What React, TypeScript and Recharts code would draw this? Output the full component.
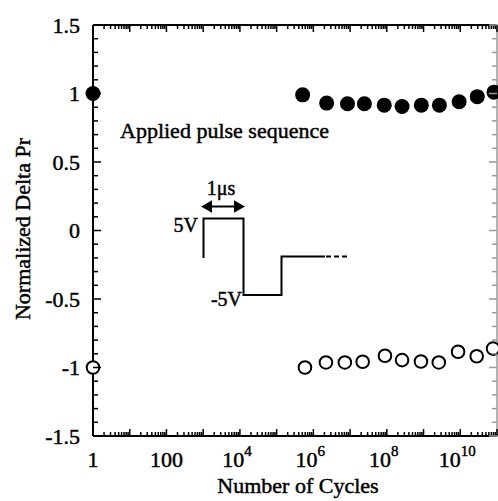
import React from 'react';
import { ScatterChart, Scatter, XAxis, YAxis } from 'recharts';

// Filled circles (positive state)
const cyclesFilled = [1, 5.1e5, 2.3e6, 8.5e6, 2.45e7, 8.5e7, 2.6e8, 8.7e8, 2.7e9, 9.3e9, 2.9e10, 8.3e10];
const prFilled = [1.0, 0.99, 0.93, 0.925, 0.925, 0.915, 0.905, 0.915, 0.915, 0.94, 0.977, 1.01];

// Open circles (negative state)
const cyclesOpen = [1, 5.9e5, 2.2e6, 7.2e6, 2.2e7, 8.9e7, 2.6e8, 8.5e8, 2.6e9, 8.7e9, 2.8e10, 7.8e10];
const prOpen = [-1.0, -1.0, -0.963, -0.963, -0.958, -0.914, -0.946, -0.956, -0.963, -0.885, -0.918, -0.862];

const xDecades = [0, 1, 2, 3, 4, 5, 6, 7, 8, 9, 10, 11];
const xLabelDecades = [0, 2, 4, 6, 8, 10];
const yTickValues = [-1.5, -1, -0.5, 0, 0.5, 1, 1.5];
const yTickLabels = ['-1.5', '-1', '-0.5', '0', '0.5', '1', '1.5'];

const filledData = cyclesFilled.map((x, i) => ({ x, y: prFilled[i] }));
const openData = cyclesOpen.map((x, i) => ({ x, y: prOpen[i] }));

const xTicks: number[] = [];
xDecades.forEach((d) => {
  for (let m = 1; m <= 9; m++) {
    const v = m * Math.pow(10, d);
    if (v <= 1e11 + 1) xTicks.push(v);
  }
});
const yTicks: number[] = [];
for (let i = -15; i <= 15; i++) yTicks.push(i / 10);

// chart layout (plot box follows from margins and axis sizes below)
const W = 498;
const H = 501;
const MARGIN = { top: 24, right: 0, bottom: 0, left: 0 };
const LEFT_W = 93;
const RIGHT_W = 1;
const BOTTOM_H = 65;
const TOP_H = 1;
const PL = MARGIN.left + LEFT_W;
const PR = W - MARGIN.right - RIGHT_W;
const PT = MARGIN.top + TOP_H;
const PB = H - MARGIN.bottom - BOTTOM_H;
const sx = (v: number) => PL + ((PR - PL) * Math.log10(v)) / 11;
const sy = (v: number) => PT + ((PB - PT) * (1.5 - v)) / 3;

const FONT = 'Liberation Serif';
const TXT = { fontFamily: FONT, fill: '#000', stroke: '#000', strokeWidth: 0.45 } as const;

const isDecade = (v: number) => {
  const d = Math.log10(v);
  return Math.abs(d - Math.round(d)) < 1e-6;
};
const isMajorY = (v: number) => yTickValues.some((t) => Math.abs(t - v) < 1e-6);

const BottomTick = (props: any) => {
  const { x, y, payload } = props;
  const v = payload.value;
  const major = isDecade(v);
  const d = Math.round(Math.log10(v));
  if (!(major && xLabelDecades.includes(d))) return <g />;
  if (d === 0)
    return <text x={x} y={y + 31} textAnchor="middle" fontSize={22} {...TXT}>1</text>;
  if (d === 2)
    return <text x={x} y={y + 31} textAnchor="middle" fontSize={22} {...TXT}>100</text>;
  return (
    <text x={x - 3} y={y + 31} textAnchor="middle" fontSize={22} {...TXT}>
      10<tspan dy={-11} fontSize={15}>{String(d)}</tspan>
    </text>
  );
};

const LeftTick = (props: any) => {
  const { x, y, payload } = props;
  const idx = yTickValues.findIndex((t) => Math.abs(t - payload.value) < 1e-6);
  if (idx < 0) return <g />;
  return (
    <text x={x - 13} y={y} dy="0.35em" textAnchor="end" fontSize={22} {...TXT}>
      {yTickLabels[idx]}
    </text>
  );
};

const FilledDot = (props: any) => {
  const { cx, cy } = props;
  return <circle cx={cx} cy={cy} r={7.5} fill="#000" />;
};
const OpenDot = (props: any) => {
  const { cx, cy } = props;
  return <circle cx={cx} cy={cy} r={6.3} fill="#fff" stroke="#000" strokeWidth={2} />;
};

export default function App() {
  return (
    <div style={{ position: 'absolute', left: 0, top: 0, width: W, height: H, background: '#fff' }}>
      <div style={{ position: 'absolute', left: 0, top: 0 }}>
        <ScatterChart width={W} height={H} margin={MARGIN}>
          <XAxis
            dataKey="x"
            type="number"
            scale="log"
            domain={[1, 1e11]}
            ticks={xTicks}
            interval={0}
            tickSize={0}
            tickMargin={0}
            height={BOTTOM_H}
            axisLine={{ stroke: '#000', strokeWidth: 2 }}
            tickLine={false}
            tick={<BottomTick />}
          />
          <XAxis
            xAxisId="top"
            dataKey="x"
            orientation="top"
            type="number"
            scale="log"
            domain={[1, 1e11]}
            ticks={xTicks}
            interval={0}
            tickSize={0}
            tickMargin={0}
            height={TOP_H}
            axisLine={{ stroke: '#000', strokeWidth: 2 }}
            tickLine={false}
            tick={false}
          />
          <YAxis
            dataKey="y"
            type="number"
            domain={[-1.5, 1.5]}
            ticks={yTicks}
            interval={0}
            tickSize={0}
            tickMargin={0}
            width={LEFT_W}
            axisLine={{ stroke: '#000', strokeWidth: 2 }}
            tickLine={false}
            tick={<LeftTick />}
          />
          <YAxis
            yAxisId="right"
            dataKey="y"
            orientation="right"
            type="number"
            domain={[-1.5, 1.5]}
            ticks={yTicks}
            interval={0}
            tickSize={0}
            tickMargin={0}
            width={RIGHT_W}
            axisLine={{ stroke: '#999', strokeWidth: 1.5 }}
            tickLine={false}
            tick={false}
          />
          <Scatter data={filledData} shape={<FilledDot />} isAnimationActive={false} />
          <Scatter
            data={openData}
            xAxisId="top"
            yAxisId="right"
            shape={<OpenDot />}
            isAnimationActive={false}
          />
        </ScatterChart>
      </div>
      <svg width={W} height={H} style={{ position: 'absolute', left: 0, top: 0, pointerEvents: 'none' }}>
        <g strokeWidth={1.5}>
          {xTicks.map((v) => (
            <g key={'x' + v}>
              <line x1={sx(v)} x2={sx(v)} y1={PB} y2={PB - (isDecade(v) ? 7 : 4)} stroke="#000" />
              <line x1={sx(v)} x2={sx(v)} y1={PT} y2={PT + (isDecade(v) ? 7 : 4)} stroke="#000" />
            </g>
          ))}
          {yTicks.map((v) => (
            <g key={'y' + v}>
              <line x1={PL} x2={PL + (isMajorY(v) ? 8 : 5)} y1={sy(v)} y2={sy(v)} stroke="#000" />
              <line x1={PR} x2={PR - (isMajorY(v) ? 8 : 5)} y1={sy(v)} y2={sy(v)} stroke="#999" />
            </g>
          ))}
        </g>
        <text x={298} y={493} textAnchor="middle" fontSize={22} {...TXT}>
          Number of Cycles
        </text>
        <text x={0} y={0} transform="translate(30,229) rotate(-90)" textAnchor="middle" fontSize={22} {...TXT}>
          Normalized Delta Pr
        </text>
        <text x={120} y={138} fontSize={22} {...TXT}>
          Applied pulse sequence
        </text>
        <text x={221} y={195} textAnchor="middle" fontSize={20} {...TXT}>
          1μs
        </text>
        <text x={198} y={232} textAnchor="end" fontSize={20} {...TXT}>
          5V
        </text>
        <text x={242} y={306} textAnchor="end" fontSize={20} {...TXT}>
          -5V
        </text>
        <g stroke="#000" strokeWidth={2} fill="none">
          <line x1={209} y1={206.5} x2={237} y2={206.5} />
          <polygon points="203,206.5 211,202 211,211" fill="#000" />
          <polygon points="243,206.5 235,202 235,211" fill="#000" />
          <polyline points="203.5,258 203.5,218.5 243.5,218.5 243.5,295 281.5,295 281.5,256.5 325,256.5" />
          <line x1={326} y1={256.5} x2={350} y2={256.5} strokeDasharray="5 3" />
        </g>
      </svg>
    </div>
  );
}
